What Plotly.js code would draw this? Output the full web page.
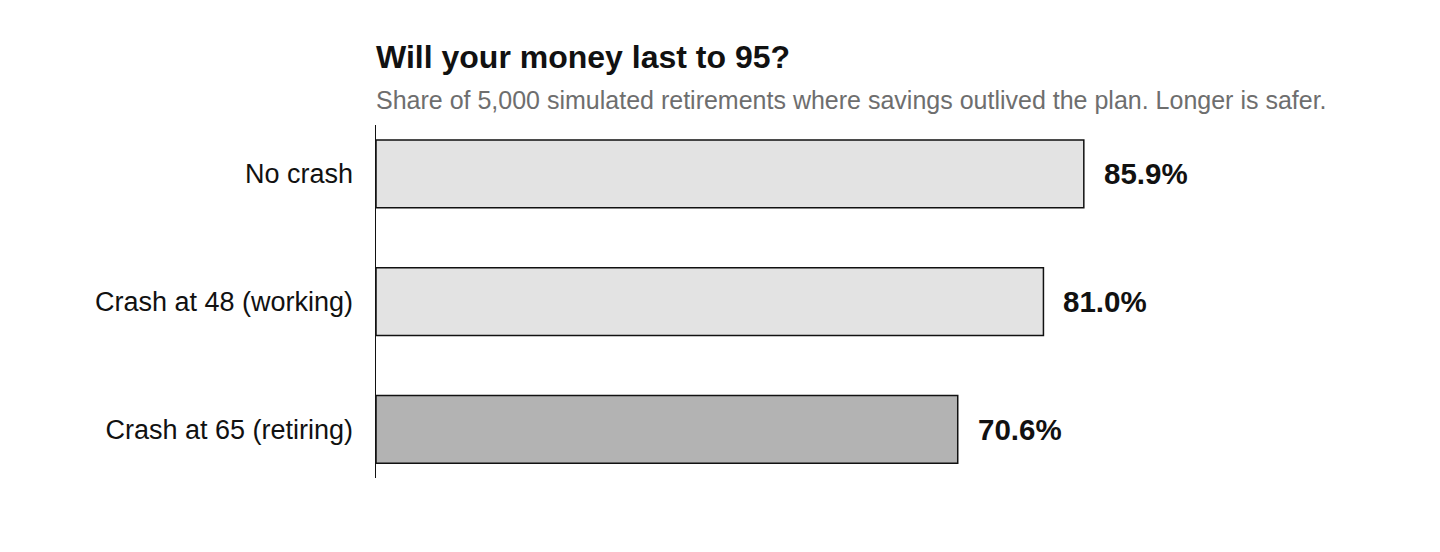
<!DOCTYPE html>
<html>
<head>
<meta charset="utf-8">
<script src="https://cdn.plot.ly/plotly-3.0.1.min.js"></script>
<style>
  html, body { margin: 0; padding: 0; background: #fff; }
  #chart { width: 1440px; height: 552px; }
</style>
</head>
<body>
<div id="chart"></div>
<script>
  // scenarios, top to bottom
  var scenarios = ["No crash", "Crash at 48 (working)", "Crash at 65 (retiring)"];
  var successPct = [85.9, 81.0, 70.6];
  var valueLabels = ["85.9%", "81.0%", "70.6%"];
  var barColors = ["#e3e3e3", "#e3e3e3", "#b3b3b3"];

  var FONT = "Liberation Sans, Arial, sans-serif";

  var trace = {
    type: "bar",
    orientation: "h",
    y: scenarios,
    x: successPct,
    width: 0.53,
    marker: { color: barColors, line: { color: "#111111", width: 1.5 } },
    hoverinfo: "skip",
  };

  var notes = scenarios.map(function (s, i) {
    return {
      x: successPct[i],
      y: s,
      xref: "x",
      yref: "y",
      text: "<b>" + valueLabels[i] + "</b>",
      showarrow: false,
      xanchor: "left",
      xshift: 18,
      font: { family: FONT, size: 29.5, color: "#111111" },
    };
  });

  notes.push({
    xref: "paper",
    yref: "paper",
    x: 0,
    y: 1,
    xanchor: "left",
    yanchor: "bottom",
    xshift: -2,
    yshift: 9,
    text: "Share of 5,000 simulated retirements where savings outlived the plan. Longer is safer.",
    showarrow: false,
    font: { family: FONT, size: 25, color: "#6e6e6e" },
  });

  Plotly.newPlot(
    "chart",
    [trace],
    {
      width: 1440,
      height: 552,
      margin: { l: 376, r: 240, t: 125, b: 74 },
      paper_bgcolor: "#ffffff",
      plot_bgcolor: "#ffffff",
      font: { family: FONT, color: "#111111" },
      title: {
        text: "<b>Will your money last to 95?</b>",
        x: 376 / 1440,
        xanchor: "left",
        xref: "container",
        y: 1 - 68 / 552,
        yanchor: "bottom",
        yref: "container",
        font: { family: FONT, size: 32, color: "#111111" },
      },
      xaxis: {
        range: [0, 100],
        visible: false,
        fixedrange: true,
      },
      yaxis: {
        type: "category",
        range: [2.38, -0.383],
        showline: true,
        linecolor: "#111111",
        linewidth: 1.5,
        showgrid: false,
        zeroline: false,
        ticks: "",
        ticklabelstandoff: 16,
        tickfont: { family: FONT, size: 27, color: "#111111" },
        fixedrange: true,
      },
      annotations: notes,
      showlegend: false,
    },
    { displayModeBar: false, staticPlot: true }
  );
</script>
</body>
</html>
